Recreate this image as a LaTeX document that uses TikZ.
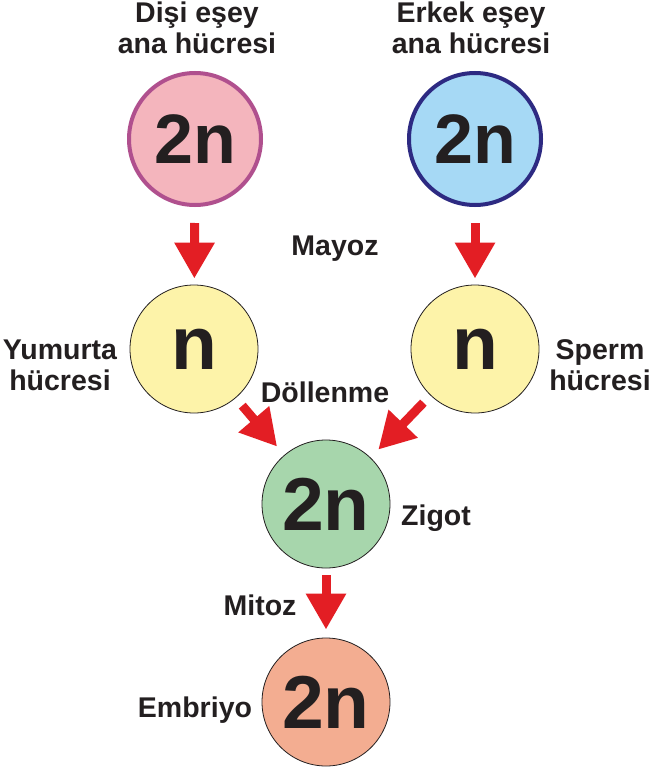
\documentclass[tikz,border=0pt]{standalone}
\usepackage{fontspec}
\setmainfont{Liberation Sans}
\usetikzlibrary{arrows.meta}
\definecolor{txt}{HTML}{231F20}
\definecolor{pinkfill}{HTML}{F4B5BD}
\definecolor{pinkborder}{HTML}{B0508E}
\definecolor{bluefill}{HTML}{A6D9F5}
\definecolor{blueborder}{HTML}{2D2A82}
\definecolor{yellowfill}{HTML}{FDF3A9}
\definecolor{greenfill}{HTML}{A7D6AC}
\definecolor{salmonfill}{HTML}{F3AD91}
\definecolor{arrowred}{HTML}{E31E24}
\begin{document}
\begin{tikzpicture}[x=1pt,y=-1pt,
  cell/.style={circle,minimum size=#1,inner sep=0pt,text=txt},
  bigcell/.style={cell=132pt,line width=4pt,font=\fontsize{70}{70}\selectfont\bfseries},
  smallcell/.style={cell=128pt,draw=txt,line width=0.8pt,font=\fontsize{75}{75}\selectfont\bfseries},
  lbl/.style={text=txt,font=\fontsize{28.5}{31}\selectfont\bfseries,align=center,inner sep=0pt,anchor=base},
  redarrow/.style={draw=arrowred,line width=9pt,-{Triangle[width=38pt,length=36pt]}}
]
\useasboundingbox (0,0) rectangle (652,768);
\fill[white] (0,0) rectangle (652,768);

\node[bigcell,draw=pinkborder,fill=pinkfill] (p1) at (195,139) {2n};
\node[bigcell,draw=blueborder,fill=bluefill] (p2) at (475,139) {2n};
\node[smallcell,fill=yellowfill] (egg) at (194,349) {n};
\node[smallcell,fill=yellowfill] (sperm) at (475,349) {n};
\node[smallcell,fill=greenfill] (zyg) at (326,504) {2n};
\node[smallcell,fill=salmonfill] (emb) at (326,702) {2n};

\node[lbl] (l1) at (197,54) {Dişi eşey\\ana hücresi};
\node[lbl] (l2) at (471,54) {Erkek eşey\\ana hücresi};
\node[lbl] (l3) at (335,255) {Mayoz};
\node[lbl] (l4) at (60,390) {Yumurta\\hücresi};
\node[lbl] (l5) at (600,390) {Sperm\\hücresi};
\node[lbl] (l6) at (325,402) {Döllenme};
\node[lbl] (l7) at (436,525) {Zigot};
\node[lbl] (l8) at (260,615) {Mitoz};
\node[lbl] (l9) at (195,717) {Embriyo};

\draw[redarrow,shorten <=16pt,shorten >=6pt] (p1) -- (egg);
\draw[redarrow,shorten <=16pt,shorten >=6pt] (p2) -- (sperm);
\draw[redarrow,shorten <=10pt,shorten >=11pt] (egg) -- (zyg);
\draw[redarrow,shorten <=10pt,shorten >=11pt] (sperm) -- (zyg);
\draw[redarrow,shorten <=7pt,shorten >=8pt] (zyg) -- (emb);
\end{tikzpicture}
\end{document}
